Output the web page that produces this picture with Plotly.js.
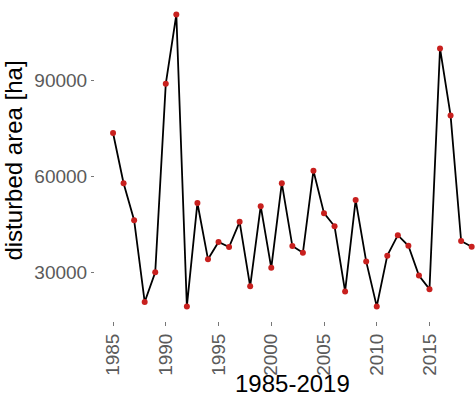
<!DOCTYPE html>
<html>
<head>
<meta charset="utf-8">
<script src="https://cdn.plot.ly/plotly-3.0.1.min.js"></script>
<style>html,body{margin:0;padding:0;background:#fff;overflow:hidden}#chart{width:476px;height:396px}</style>
</head>
<body>
<div id="chart"></div>
<script>
const years = [1985,1986,1987,1988,1989,1990,1991,1992,1993,1994,1995,1996,1997,1998,1999,2000,2001,2002,2003,2004,2005,2006,2007,2008,2009,2010,2011,2012,2013,2014,2015,2016,2017,2018,2019];
const disturbedArea = [73600,57900,46300,20700,30000,89000,110700,19300,51700,34100,39500,37900,45800,25600,50700,31400,57900,38200,36100,61800,48500,44400,24000,52600,33400,19300,35200,41600,38300,29000,24700,100100,79100,39800,38000];
const yTicks = [30000,60000,90000];
const xTicks = [1985,1990,1995,2000,2005,2010,2015];
const xTitle = "1985-2019";
const yTitle = "disturbed area [ha]";

const font = "Liberation Sans, Arial, Helvetica, sans-serif";
const trace = {
  x: years, y: disturbedArea, type: "scatter", mode: "lines+markers",
  line: {color: "#000000", width: 1.8},
  marker: {color: "#c8201e", size: 6},
  cliponaxis: false, hoverinfo: "none"
};
const layout = {
  width: 476, height: 396,
  margin: {l: 95, r: 0, t: 0, b: 75, pad: 0},
  paper_bgcolor: "#ffffff", plot_bgcolor: "#ffffff",
  showlegend: false,
  font: {family: font},
  xaxis: {
    range: [1983.29, 2019.41], tickvals: xTicks, ticktext: xTicks.map(String),
    tickangle: -90, ticks: "outside", ticklen: 4, tickwidth: 1, tickcolor: "#777",
    tickfont: {size: 19, color: "#5a5a5a", family: font},
    showgrid: false, zeroline: false, showline: false
  },
  yaxis: {
    range: [14730, 115270], tickvals: yTicks, ticktext: yTicks.map(String),
    ticks: "outside", ticklen: 3, tickwidth: 1, tickcolor: "#777",
    tickfont: {size: 19, color: "#5a5a5a", family: font},
    showgrid: false, zeroline: false, showline: false,
    title: {text: yTitle, font: {size: 24, color: "#000", family: font}, standoff: 5}
  },
  annotations: [{
    text: xTitle, xref: "paper", yref: "paper", x: (292 - 95) / 381, y: 0,
    yshift: -62, xanchor: "center", yanchor: "middle", showarrow: false,
    font: {size: 24, color: "#000", family: font}
  }]
};
Plotly.newPlot("chart", [trace], layout, {staticPlot: true, displayModeBar: false});
</script>
</body>
</html>
